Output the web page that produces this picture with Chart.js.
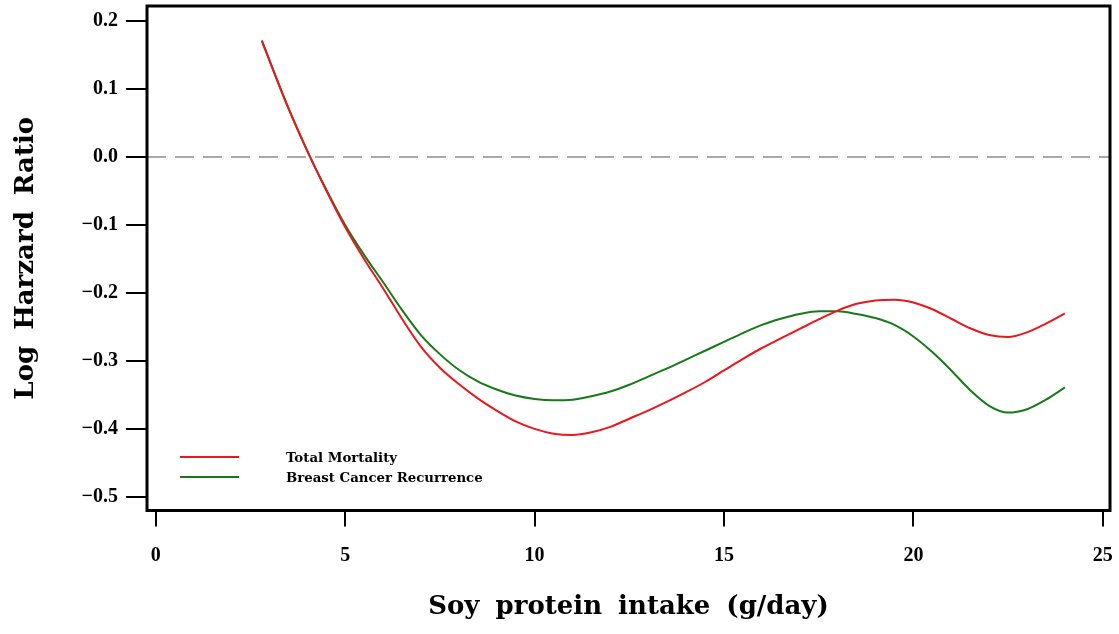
<!DOCTYPE html>
<html>
<head>
<meta charset="utf-8">
<script src="https://cdn.jsdelivr.net/npm/chart.js@4/dist/chart.umd.min.js"></script>
<style>
  html, body { margin: 0; padding: 0; background: #fff; }
  #wrap { width: 1119px; height: 634px; }
</style>
</head>
<body>
<div id="wrap"><canvas id="chart"></canvas></div>
<script>
// soy protein intake (g/day)
var intake = [2.8, 3.5, 4, 4.5, 5, 5.5, 6, 6.5, 7, 7.5, 8, 8.5, 9, 9.5, 10, 10.5, 11, 11.5,
    12, 12.5, 13, 13.5, 14, 14.5, 15, 15.5, 16, 16.5, 17, 17.5, 18, 18.5, 19, 19.5, 20,
    20.5, 21, 21.5, 22, 22.5, 23, 23.5, 24];

// log hazard ratio, total mortality
var mortality = [0.171, 0.072, 0.009, -0.049, -0.103, -0.150, -0.193, -0.238, -0.279, -0.310,
    -0.334, -0.355, -0.373, -0.389, -0.400, -0.407, -0.409, -0.405, -0.397, -0.385, -0.373,
    -0.360, -0.346, -0.331, -0.314, -0.297, -0.281, -0.267, -0.253, -0.239, -0.226, -0.216,
    -0.211, -0.210, -0.214, -0.224, -0.238, -0.252, -0.262, -0.265, -0.258, -0.245, -0.230];

// log hazard ratio, breast cancer recurrence
var recurrence = [0.171, 0.072, 0.009, -0.048, -0.100, -0.144, -0.184, -0.225, -0.262, -0.290,
    -0.313, -0.330, -0.342, -0.351, -0.356, -0.358, -0.357, -0.352, -0.345, -0.335, -0.323,
    -0.311, -0.298, -0.285, -0.272, -0.259, -0.247, -0.238, -0.231, -0.227, -0.227, -0.231,
    -0.237, -0.247, -0.264, -0.287, -0.314, -0.343, -0.366, -0.376, -0.371, -0.357, -0.339];

var xTicks = [0, 5, 10, 15, 20, 25];
var yTicks = [0.2, 0.1, 0.0, -0.1, -0.2, -0.3, -0.4, -0.5];

var X_MIN = -0.23, X_MAX = 25.19;
var Y_MIN = -0.52, Y_MAX = 0.222;

var RED = 'rgb(232,24,30)';
var GREEN = 'rgb(22,122,22)';

function toPoints(xs, ys) {
    return xs.map(function(x, i) { return {x: x, y: ys[i]}; });
}

function noPadding(scale) {
    scale.paddingTop = 0;
    scale.paddingBottom = 0;
    scale.paddingLeft = 0;
    scale.paddingRight = 0;
}

var tickFont = {family: 'Liberation Serif', size: 20, weight: 'bold'};
var titleFont = {family: 'DejaVu Serif', size: 26, weight: 'bold'};

// wide word gaps, like the original typesetting
var spacingPlugin = {
    id: 'spacing',
    beforeDraw: function(chart) {
        chart.ctx.wordSpacing = '7px';
    }
};

// frame round the plot area
var boxPlugin = {
    id: 'box',
    afterDraw: function(chart) {
        var a = chart.chartArea, ctx = chart.ctx;
        ctx.save();
        ctx.strokeStyle = '#000';
        ctx.lineWidth = 3;
        ctx.strokeRect(a.left, a.top, a.right - a.left, a.bottom - a.top);
        ctx.restore();
    }
};

// legend inside the plot, bottom left
var legendPlugin = {
    id: 'innerLegend',
    afterDraw: function(chart) {
        var ctx = chart.ctx;
        var rows = [
            {ds: chart.data.datasets[0], y: 457},
            {ds: chart.data.datasets[1], y: 477}
        ];
        ctx.save();
        ctx.wordSpacing = '0px';
        rows.forEach(function(r) {
            ctx.strokeStyle = r.ds.borderColor;
            ctx.lineWidth = 2;
            ctx.beginPath();
            ctx.moveTo(180, r.y);
            ctx.lineTo(239, r.y);
            ctx.stroke();
            ctx.fillStyle = '#000';
            ctx.font = 'bold 13.3px "DejaVu Serif"';
            ctx.textBaseline = 'middle';
            ctx.fillText(r.ds.label, 286, r.y + 2);
        });
        ctx.restore();
    }
};

new Chart(document.getElementById('chart'), {
    type: 'line',
    data: {
        datasets: [{
            label: 'Total Mortality',
            data: toPoints(intake, mortality),
            borderColor: RED,
            borderWidth: 2,
            pointRadius: 0,
            cubicInterpolationMode: 'monotone',
            fill: false
        }, {
            label: 'Breast Cancer Recurrence',
            data: toPoints(intake, recurrence),
            borderColor: GREEN,
            borderWidth: 2,
            pointRadius: 0,
            cubicInterpolationMode: 'monotone',
            fill: false
        }, {
            label: 'reference',
            data: [{x: X_MIN, y: 0}, {x: X_MAX, y: 0}],
            borderColor: 'rgb(140,140,140)',
            borderWidth: 1.5,
            borderDash: [19, 9],
            pointRadius: 0,
            fill: false
        }]
    },
    options: {
        responsive: true,
        maintainAspectRatio: false,
        animation: false,
        layout: {
            padding: {top: 6, right: 9, left: 0, bottom: 0}
        },
        plugins: {
            legend: {display: false},
            tooltip: {enabled: false}
        },
        scales: {
            x: {
                type: 'linear',
                min: X_MIN,
                max: X_MAX,
                afterBuildTicks: function(scale) {
                    scale.ticks = xTicks.map(function(v) { return {value: v}; });
                },
                afterFit: function(scale) {
                    scale.height = 123.5;
                    noPadding(scale);
                },
                border: {display: false},
                grid: {
                    drawOnChartArea: false,
                    drawTicks: true,
                    tickLength: 16,
                    color: '#000',
                    lineWidth: 2
                },
                ticks: {
                    font: tickFont,
                    color: '#000',
                    padding: 17,
                    maxRotation: 0,
                    callback: function(v) { return String(v); }
                },
                title: {
                    display: true,
                    text: 'Soy protein intake (g/day)',
                    font: titleFont,
                    color: '#000',
                    padding: 11
                }
            },
            y: {
                type: 'linear',
                min: Y_MIN,
                max: Y_MAX,
                afterBuildTicks: function(scale) {
                    scale.ticks = yTicks.map(function(v) { return {value: v}; });
                },
                afterFit: function(scale) {
                    scale.width = 147;
                    noPadding(scale);
                },
                border: {display: false},
                grid: {
                    drawOnChartArea: false,
                    drawTicks: true,
                    tickLength: 21,
                    color: '#000',
                    lineWidth: 2
                },
                ticks: {
                    font: tickFont,
                    color: '#000',
                    padding: 8,
                    callback: function(v) {
                        var s = Math.abs(v).toFixed(1);
                        return v < -1e-9 ? '\u2212' + s : s;
                    }
                },
                title: {
                    display: true,
                    text: 'Log Harzard Ratio',
                    font: titleFont,
                    color: '#000',
                    padding: 11
                }
            }
        }
    },
    plugins: [spacingPlugin, boxPlugin, legendPlugin]
});
</script>
</body>
</html>
